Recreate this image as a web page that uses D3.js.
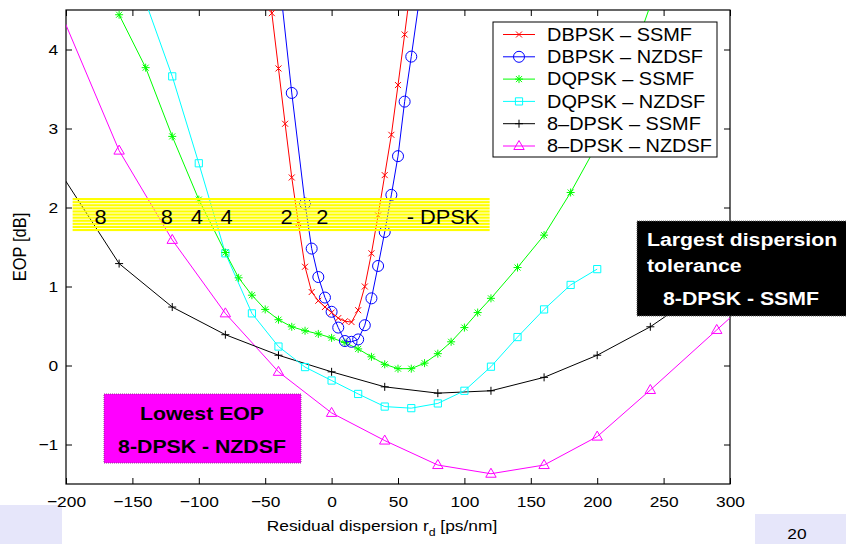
<!DOCTYPE html>
<html>
<head>
<meta charset="utf-8">
<script src="https://cdn.jsdelivr.net/npm/d3@7"></script>
<style>
  body { margin: 0; background: #fff; }
  text { font-family: "Liberation Sans", Arial, Helvetica, sans-serif; }
</style>
</head>
<body>
<script>
'use strict';

// values
const xDbpskSsmf = [-50, -45, -40, -35, -30, -25, -20, -15, -10, -5, 0, 5, 10, 15, 20, 25, 30, 35, 40, 45, 50, 55, 60];
const yDbpskSsmf = [5.2, 4.46, 3.76, 3.06, 2.38, 1.8, 1.25, 0.93, 0.82, 0.74, 0.67, 0.6, 0.56, 0.55, 0.7, 1.0, 1.42, 1.9, 2.41, 2.92, 3.55, 4.19, 4.85];

const xDbpskNzdsf = [-40, -30, -20, -15, -10, -5, 0, 5, 10, 15, 20, 25, 30, 35, 40, 45, 50, 55, 60, 70];
const yDbpskNzdsf = [5.0, 3.45, 2.05, 1.48, 1.12, 0.86, 0.68, 0.48, 0.31, 0.3, 0.33, 0.51, 0.85, 1.26, 1.69, 2.16, 2.65, 3.34, 3.91, 5.1];

const xDqpskSsmf = [-160, -140, -120, -100, -80, -70, -60, -50, -40, -30, -20, -10, 0, 10, 20, 30, 40, 50, 60, 70, 80, 90, 100, 110, 120, 140, 160, 180, 200, 220, 240];
const yDqpskSsmf = [4.44, 3.77, 2.9, 2.1, 1.43, 1.11, 0.89, 0.71, 0.58, 0.49, 0.44, 0.4, 0.35, 0.29, 0.21, 0.11, 0.015, -0.04, -0.04, 0.03, 0.15, 0.3, 0.48, 0.67, 0.85, 1.24, 1.65, 2.19, 2.8, 3.6, 4.56];

const xDqpskNzdsf = [-140, -120, -100, -80, -60, -40, -20, 0, 20, 40, 60, 80, 100, 120, 140, 160, 180, 200];
const yDqpskNzdsf = [4.6, 3.66, 2.56, 1.42, 0.66, 0.24, -0.02, -0.19, -0.36, -0.52, -0.54, -0.48, -0.32, -0.015, 0.36, 0.71, 1.02, 1.22];

const x8dpskSsmf = [-240, -160, -120, -80, -40, 0, 40, 80, 120, 160, 200, 240, 280, 320];
const y8dpskSsmf = [3.37, 1.29, 0.74, 0.39, 0.13, -0.08, -0.27, -0.35, -0.32, -0.15, 0.13, 0.49, 0.95, 1.45];

const x8dpskNzdsf = [-240, -160, -120, -80, -40, 0, 40, 80, 120, 160, 200, 240, 290, 330];
const y8dpskNzdsf = [5.9, 2.72, 1.59, 0.66, -0.08, -0.6, -0.95, -1.26, -1.37, -1.26, -0.9, -0.31, 0.45, 1.06];

const seriesNames = ["DBPSK \u2013 SSMF", "DBPSK \u2013 NZDSF", "DQPSK \u2013 SSMF", "DQPSK \u2013 NZDSF", "8\u2013DPSK \u2013 SSMF", "8\u2013DPSK \u2013 NZDSF"];
const seriesColors = ["#ff0000", "#0000ff", "#00ff00", "#00ffff", "#000000", "#ff00ff"];
const seriesMarkers = ["x", "circle", "star", "square", "plus", "triangle"];

const xTicks = [-200, -150, -100, -50, 0, 50, 100, 150, 200, 250, 300];
const yTicks = [-1, 0, 1, 2, 3, 4];

// labels written on the yellow band (x in ps/nm)
const bandLabels = ["8", "8", "4", "4", "2", "2", "- DPSK"];
const bandLabelX = [-174, -124, -101.5, -79, -34, -7, 56.5];

const SX = 1.12; // the slide is stretched a bit sideways

const svg = d3.select("body").append("svg")
    .attr("width", 846)
    .attr("height", 544);

const x = d3.scaleLinear().domain([-200, 300]).range([66, 730]);
const y = d3.scaleLinear().domain([-1.5, 4.5]).range([484, 10]);

// slide footer blocks
svg.append("rect").attr("x", 0).attr("y", 505).attr("width", 62).attr("height", 39).attr("fill", "#e6e6fa");
svg.append("rect").attr("x", 755).attr("y", 514).attr("width", 91).attr("height", 30).attr("fill", "#e6e6fa");
svg.append("text")
    .attr("transform", `translate(797,539) scale(${SX},1)`)
    .attr("text-anchor", "middle")
    .attr("font-size", 15.5)
    .text("20");

svg.append("clipPath").attr("id", "plotclip")
    .append("rect")
    .attr("x", 66).attr("y", 10)
    .attr("width", 730 - 66).attr("height", 484 - 10);

// axes
const xAxis = d3.axisBottom(x).tickValues(xTicks).tickSizeInner(-6).tickSizeOuter(0).tickPadding(12);
const xAxisTop = d3.axisTop(x).tickValues(xTicks).tickSizeInner(-6).tickSizeOuter(0).tickFormat("");
const yAxis = d3.axisLeft(y).tickValues(yTicks).tickFormat(d3.format("d")).tickSizeInner(-6).tickSizeOuter(0).tickPadding(7);
const yAxisRight = d3.axisRight(y).tickValues(yTicks).tickSizeInner(-6).tickSizeOuter(0).tickFormat("");

function styleAxis(g) {
    g.select(".domain").remove();
    g.selectAll("line").attr("stroke", "#000");
    g.selectAll("text")
        .attr("fill", "#000")
        .attr("font-size", 15.5)
        .attr("font-family", "Liberation Sans, Arial, sans-serif")
        .attr("transform", `scale(${SX},1)`);
}

svg.append("g").attr("transform", "translate(0,484)").call(xAxis).call(styleAxis);
svg.append("g").attr("transform", "translate(0,10)").call(xAxisTop).call(styleAxis);
svg.append("g").attr("transform", "translate(66,0)").call(yAxis).call(styleAxis);
svg.append("g").attr("transform", "translate(730,0)").call(yAxisRight).call(styleAxis);

svg.append("rect")
    .attr("x", 66).attr("y", 10)
    .attr("width", 730 - 66).attr("height", 484 - 10)
    .attr("fill", "none")
    .attr("stroke", "#000")
    .attr("stroke-width", 1.2);

// axis labels
const xl = svg.append("text")
    .attr("transform", `translate(382,531) scale(${SX},1)`)
    .attr("text-anchor", "middle")
    .attr("font-size", 15.5);
xl.append("tspan").text("Residual dispersion r");
xl.append("tspan").attr("font-size", 11).attr("dy", 5).text("d");
xl.append("tspan").attr("dy", -5).text(" [ps/nm]");

svg.append("text")
    .attr("transform", `translate(26,247) scale(${SX},1) rotate(-90)`)
    .attr("text-anchor", "middle")
    .attr("font-size", 16.5)
    .text("EOP [dB]");

// markers
function markerPath(type) {
    if (type === "x") return "M-3,-3L3,3M-3,3L3,-3";
    if (type === "plus") return "M-4,0H4M0,-4V4";
    if (type === "star") return "M-4,0H4M0,-4V4M-3,-3L3,3M-3,3L3,-3";
    if (type === "square") return "M-3.6,-3.6H3.6V3.6H-3.6Z";
    if (type === "triangle") return "M0,-5.5L5.2,3.5H-5.2Z";
    return d3.symbol().type(d3.symbolCircle).size(Math.PI * 5.5 * 5.5)();
}

const seriesX = [xDbpskSsmf, xDbpskNzdsf, xDqpskSsmf, xDqpskNzdsf, x8dpskSsmf, x8dpskNzdsf];
const seriesY = [yDbpskSsmf, yDbpskNzdsf, yDqpskSsmf, yDqpskNzdsf, y8dpskSsmf, y8dpskNzdsf];

const line = d3.line()
    .x(function(d) { return x(d[0]); })
    .y(function(d) { return y(d[1]); });

const plot = svg.append("g").attr("clip-path", "url(#plotclip)");

// draw in reverse so the red curve ends up on top like matlab
for (let s = seriesX.length - 1; s >= 0; s--) {
    const pts = seriesX[s].map(function(v, i) { return [v, seriesY[s][i]]; });
    plot.append("path")
        .datum(pts)
        .attr("d", line)
        .attr("fill", "none")
        .attr("stroke", seriesColors[s])
        .attr("stroke-width", 1);

    plot.selectAll(".m" + s)
        .data(pts.filter(function(d) { return d[0] >= -200 && d[0] <= 300 && d[1] >= -1.5 && d[1] <= 4.5; }))
        .enter()
        .append("path")
        .attr("class", "m" + s)
        .attr("transform", function(d) { return "translate(" + x(d[0]) + "," + y(d[1]) + ")"; })
        .attr("d", markerPath(seriesMarkers[s]))
        .attr("fill", "none")
        .attr("stroke", seriesColors[s])
        .attr("stroke-width", 1);
}

// yellow striped band with the modulation orders
const band = svg.append("g");
const bandTop = y(2.12), bandBottom = y(1.69);
const nStripes = 11;
const stripeStep = (bandBottom - bandTop) / nStripes;
for (let i = 0; i < nStripes; i++) {
    band.append("rect")
        .attr("x", x(-195))
        .attr("y", bandTop + i * stripeStep)
        .attr("width", x(119) - x(-195))
        .attr("height", stripeStep - 0.9)
        .attr("fill", "#ffff00");
}
bandLabels.forEach(function(t, i) {
    band.append("text")
        .attr("transform", `translate(${x(bandLabelX[i])},${y(1.79)}) scale(${SX},1)`)
        .attr("text-anchor", i === bandLabels.length - 1 ? "start" : "middle")
        .attr("font-size", 19.5)
        .text(t);
});

// legend
const legend = svg.append("g");
legend.append("rect")
    .attr("x", 493).attr("y", 22)
    .attr("width", 224).attr("height", 135)
    .attr("fill", "#fff")
    .attr("stroke", "#000")
    .attr("stroke-width", 1);

seriesNames.forEach(function(name, i) {
    const ly = 34.5 + i * 22.3;
    legend.append("line")
        .attr("x1", 503).attr("x2", 535)
        .attr("y1", ly).attr("y2", ly)
        .attr("stroke", seriesColors[i]);
    legend.append("path")
        .attr("transform", "translate(519," + ly + ")")
        .attr("d", markerPath(seriesMarkers[i]))
        .attr("fill", "none")
        .attr("stroke", seriesColors[i]);
    legend.append("text")
        .attr("transform", `translate(547,${ly + 6.2}) scale(${SX},1)`)
        .attr("font-size", 17.8)
        .text(name);
});

// call-out boxes
svg.append("rect")
    .attr("x", 637).attr("y", 221)
    .attr("width", 215).attr("height", 95)
    .attr("fill", "#000")
    .attr("stroke", "#666")
    .attr("stroke-dasharray", "1,1");
const blackLines = ["Largest dispersion", "tolerance"];
blackLines.forEach(function(t, i) {
    svg.append("text")
        .attr("transform", `translate(647,${246 + i * 25.5}) scale(${SX},1)`)
        .attr("font-size", 19)
        .attr("font-weight", "bold")
        .attr("fill", "#fff")
        .text(t);
});
svg.append("text")
    .attr("transform", `translate(741,305) scale(${SX},1)`)
    .attr("text-anchor", "middle")
    .attr("font-size", 19)
    .attr("font-weight", "bold")
    .attr("fill", "#fff")
    .text("8-DPSK - SSMF");

svg.append("rect")
    .attr("x", 104).attr("y", 394)
    .attr("width", 197).attr("height", 69)
    .attr("fill", "#ff00ff")
    .attr("stroke", "#993399")
    .attr("stroke-dasharray", "1,1");
["Lowest EOP", "8-DPSK - NZDSF"].forEach(function(t, i) {
    svg.append("text")
        .attr("transform", `translate(202,${420 + i * 32.5}) scale(${SX},1)`)
        .attr("text-anchor", "middle")
        .attr("font-size", 19)
        .attr("font-weight", "bold")
        .attr("fill", "#000")
        .text(t);
});
</script>
</body>
</html>
